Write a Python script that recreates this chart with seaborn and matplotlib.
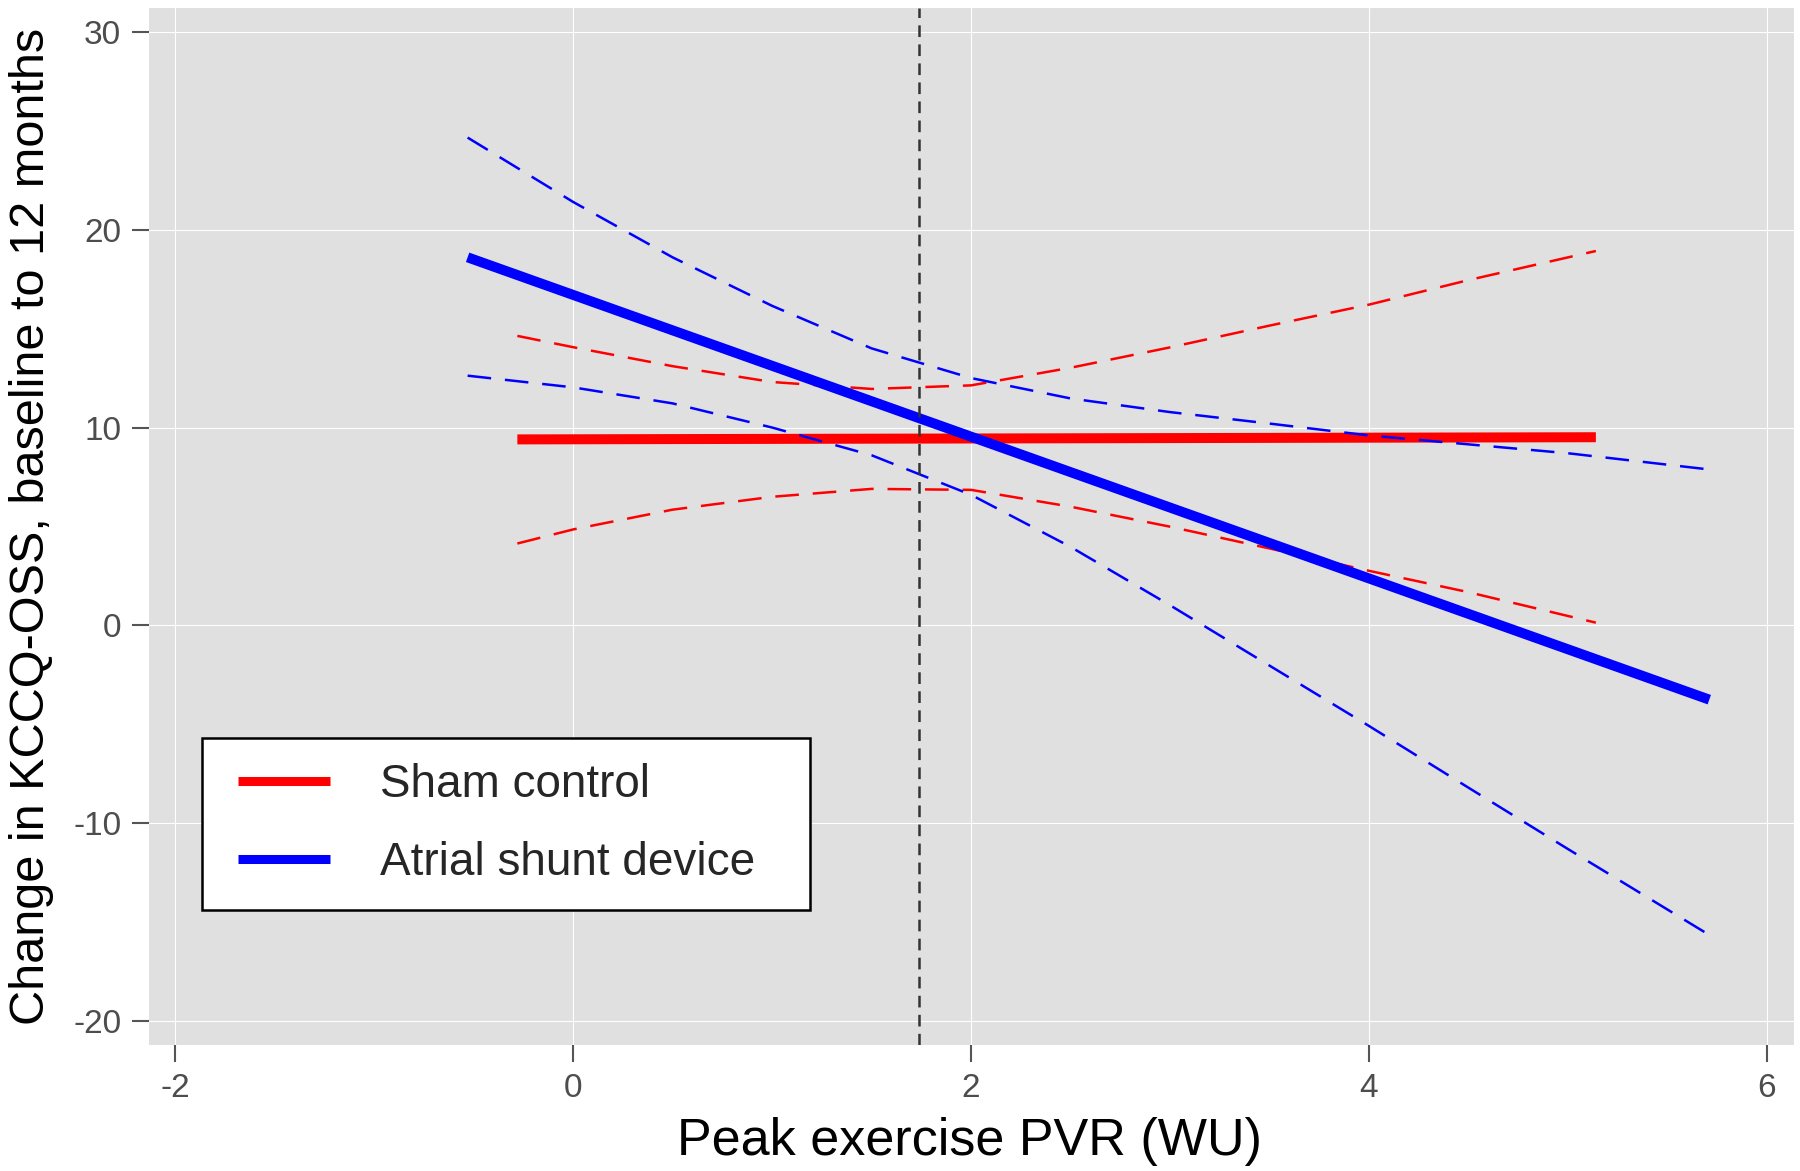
import matplotlib
matplotlib.use('Agg')
import matplotlib.pyplot as plt
import seaborn as sns
from matplotlib.lines import Line2D
from matplotlib.patches import Rectangle

# Fitted lines
pvr_fit_sham = [-0.28, 5.14]
kccq_fit_sham = [9.40, 9.51]
pvr_fit_shunt = [-0.53, 5.71]
kccq_fit_shunt = [18.6, -3.75]

# 95% CI bands, dashed
pvr_ci_sham = [-0.28, 0.0, 0.5, 1.0, 1.5, 2.0, 2.5, 3.0, 3.5, 4.0, 4.5, 5.14]
upper_sham = [14.63, 14.06, 13.1, 12.3, 11.95, 12.13, 13.02, 14.05, 15.15, 16.21, 17.45, 18.92]
lower_sham = [4.14, 4.85, 5.85, 6.5, 6.9, 6.85, 6.0, 4.99, 3.89, 2.76, 1.68, 0.14]

pvr_ci_shunt = [-0.53, 0.0, 0.5, 1.0, 1.5, 2.0, 2.5, 3.0, 3.5, 4.0, 4.5, 5.0, 5.71]
upper_shunt = [24.65, 21.4, 18.6, 16.15, 14.0, 12.5, 11.47, 10.78, 10.2, 9.6, 9.15, 8.7, 7.88]
lower_shunt = [12.62, 12.03, 11.22, 10.0, 8.6, 6.6, 3.97, 1.02, -2.03, -5.08, -8.2, -11.3, -15.64]

cutoff_pvr = 1.74

x_ticks = [-2, 0, 2, 4, 6]
y_ticks = [-20, -10, 0, 10, 20, 30]
group_names = ['Sham control', 'Atrial shunt device']
group_colors = ['#FF0000', '#0000FF']

sns.set_style('darkgrid', rc={
    'axes.facecolor': '#E0E0E0',
    'grid.color': 'white',
    'grid.linewidth': 1.8,
    'axes.axisbelow': True,
})
plt.rcParams['font.family'] = ['Liberation Sans', 'DejaVu Sans']
plt.rcParams['axes.unicode_minus'] = False
plt.rcParams['lines.scale_dashes'] = False

fig = plt.figure(figsize=(18, 11.71), dpi=100)
ax = fig.add_axes([0.0828, 0.1076, 0.9139, 0.8856])

fit_lw = 7.2
ci_lw = 1.8
ci_dash = (0, (17, 10))

# sham
sns.lineplot(x=pvr_fit_sham, y=kccq_fit_sham, color=group_colors[0], linewidth=fit_lw,
             solid_capstyle='butt', ax=ax)
sns.lineplot(x=pvr_ci_sham, y=upper_sham, color=group_colors[0], linewidth=ci_lw,
             linestyle=ci_dash, ax=ax)
sns.lineplot(x=pvr_ci_sham, y=lower_sham, color=group_colors[0], linewidth=ci_lw,
             linestyle=ci_dash, ax=ax)
# shunt
sns.lineplot(x=pvr_fit_shunt, y=kccq_fit_shunt, color=group_colors[1], linewidth=fit_lw,
             solid_capstyle='butt', ax=ax)
sns.lineplot(x=pvr_ci_shunt, y=upper_shunt, color=group_colors[1], linewidth=ci_lw,
             linestyle=ci_dash, ax=ax)
sns.lineplot(x=pvr_ci_shunt, y=lower_shunt, color=group_colors[1], linewidth=ci_lw,
             linestyle=ci_dash, ax=ax)

ax.axvline(cutoff_pvr, color='#333333', linewidth=1.8, linestyle=(0, (8.4, 5.3)))

ax.set_xlim(-2.131, 6.136)
ax.set_ylim(-21.2, 31.2)
ax.set_xticks(x_ticks)
ax.set_yticks(y_ticks)
ax.tick_params(axis='both', bottom=True, left=True, length=12, width=1.5,
               color='#555555', labelcolor='#4D4D4D', labelsize=24)
ax.tick_params(axis='x', pad=8)
ax.tick_params(axis='y', pad=8)
for s in ax.spines.values():
    s.set_visible(False)

ax.set_xlabel('Peak exercise PVR (WU)', fontsize=37.5, color='black')
ax.xaxis.set_label_coords(0.499, -0.069)
ax.set_ylabel('Change in KCCQ-OSS, baseline to 12 months', fontsize=35, color='black',
              labelpad=14)

# legend box drawn separately so its size matches the original
ax.add_patch(Rectangle((0.0322, 0.1302), 0.3696, 0.1659, transform=ax.transAxes,
                       facecolor='white', edgecolor='black', linewidth=1.8, zorder=4.5))
handles = [Line2D([], [], color=c, linewidth=6.5, solid_capstyle='butt') for c in group_colors]
leg = ax.legend(handles, group_names, loc='center left', bbox_to_anchor=(0.0541, 0.213),
                borderaxespad=0, borderpad=0, frameon=False, fontsize=33,
                handlelength=2.0, handletextpad=1.1, labelspacing=0.75)
leg.set_zorder(5)

fig.savefig('out.png', dpi=100)
